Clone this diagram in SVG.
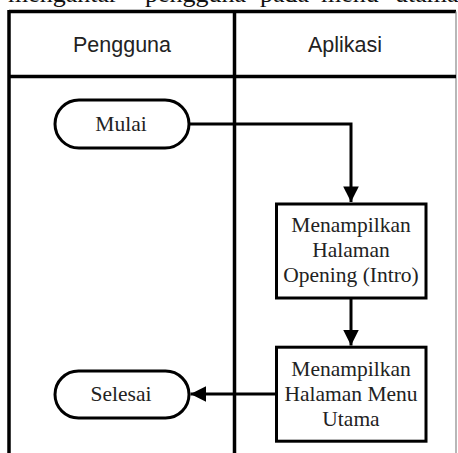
<svg xmlns="http://www.w3.org/2000/svg" width="458" height="453" viewBox="0 0 458 453">
<style>
.frame{stroke:#000;stroke-width:3.5;fill:none}
.hdr{font-family:"Liberation Sans",Arial,sans-serif;font-size:21.5px;fill:#222;text-anchor:middle}
.lbl{font-family:"Liberation Serif","Times New Roman",serif;font-size:21.5px;fill:#222;text-anchor:middle}
.node{fill:#fff;stroke:#000;stroke-width:3}
.conn{stroke:#000;stroke-width:3;fill:none}
.top{font-family:"Liberation Serif","Times New Roman",serif;font-size:26px;fill:#111}
</style>
<defs>
<marker id="ah" viewBox="0 0 10 10" refX="10" refY="5" markerWidth="5.2" markerHeight="5.2" orient="auto" markerUnits="strokeWidth">
<path d="M0,0 L10,5 L0,10 z" fill="#000"/>
</marker>
</defs>
<rect x="0" y="0" width="458" height="453" fill="#fff"/>
<text class="top" y="2"><tspan x="8">mengantar</tspan><tspan x="145">pengguna</tspan><tspan x="260">pada</tspan><tspan x="321">menu</tspan><tspan x="395">utama.</tspan></text>
<g id="lanes">
<line x1="9" y1="11.5" x2="456" y2="11.5" class="frame"/>
<line x1="9" y1="10" x2="9" y2="453" class="frame"/>
<line x1="456" y1="11.5" x2="456" y2="453" stroke="#888" stroke-width="1.2"/>
<line x1="9" y1="76.5" x2="456" y2="76.5" class="frame"/>
<line x1="234.5" y1="11.5" x2="234.5" y2="453" class="frame"/>
<text class="hdr" x="122" y="52">Pengguna</text>
<text class="hdr" x="345" y="52">Aplikasi</text>
</g>
<g id="connectors">
<polyline class="conn" points="189,124 351,124 351,202" marker-end="url(#ah)"/>
<line class="conn" x1="351" y1="298" x2="351" y2="345.5" marker-end="url(#ah)"/>
<line class="conn" x1="276" y1="394" x2="190.5" y2="394" marker-end="url(#ah)"/>
</g>
<g id="mulai">
<rect class="node" x="55" y="100" width="134" height="48" rx="24"/>
<text class="lbl" x="121" y="131">Mulai</text>
</g>
<g id="intro">
<rect class="node" x="276.5" y="204" width="149.5" height="94"/>
<text class="lbl" x="351" y="231.5">Menampilkan</text>
<text class="lbl" x="351" y="256.5">Halaman</text>
<text class="lbl" x="351" y="281.5">Opening (Intro)</text>
</g>
<g id="menu">
<rect class="node" x="276.5" y="347.2" width="149.5" height="94"/>
<text class="lbl" x="351" y="375.5">Menampilkan</text>
<text class="lbl" x="351" y="400.5">Halaman Menu</text>
<text class="lbl" x="351" y="425.5">Utama</text>
</g>
<g id="selesai">
<rect class="node" x="55" y="371" width="134" height="47" rx="23.5"/>
<text class="lbl" x="121" y="401">Selesai</text>
</g>
</svg>
